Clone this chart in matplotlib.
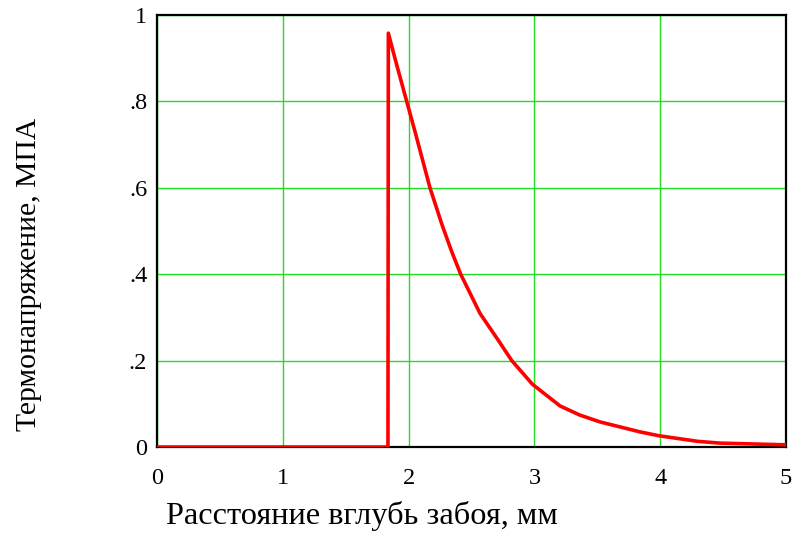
import matplotlib.pyplot as plt
from matplotlib.ticker import FuncFormatter

# глубина, мм и термонапряжение, МПА
depth = [0.0, 1.836, 1.839, 1.905, 1.985, 2.051, 2.17, 2.265, 2.343, 2.414, 2.568,
         2.713, 2.82, 2.886, 2.985, 3.204, 3.36, 3.522, 3.839, 3.99, 4.30, 4.475, 5.0]
stress = [0.0, 0.0, 0.958, 0.885, 0.80, 0.73, 0.60, 0.515, 0.452, 0.40, 0.309,
          0.247, 0.20, 0.178, 0.145, 0.095, 0.074, 0.058, 0.035, 0.026, 0.013, 0.009, 0.005]

x_ticks = [0, 1, 2, 3, 4, 5]
y_ticks = [0, 0.2, 0.4, 0.6, 0.8, 1.0]

plt.rcParams['font.family'] = ['Liberation Serif', 'DejaVu Serif']

fig = plt.figure(figsize=(7.98, 5.39), dpi=100)
ax = fig.add_axes([0.1967, 0.1707, 0.7883, 0.8015])

ax.plot(depth, stress, color='red', lw=2.6, solid_joinstyle='round', zorder=3)

ax.set_xlim(0, 5)
ax.set_ylim(0, 1)
ax.set_xticks(x_ticks)
ax.set_yticks(y_ticks)


def fmt_y(v, pos):
    if v == 0 or v == 1:
        return '%d' % v
    return ('%.1f' % v).lstrip('0')


ax.yaxis.set_major_formatter(FuncFormatter(fmt_y))
ax.tick_params(length=0, labelsize=17.5)
ax.tick_params(axis='x', pad=15)
ax.tick_params(axis='y', pad=7)

ax.grid(True, color='#22dd22', lw=1.0)
for s in ax.spines.values():
    s.set_linewidth(1.6)
    s.set_color('black')

ax.set_xlabel('Расстояние вглубь забоя, мм', fontsize=23.3)
ax.xaxis.set_label_coords(0.326, -0.125)
ax.set_ylabel('Термонапряжение, МПА', fontsize=21.3)
ax.yaxis.set_label_coords(-0.183, 0.40)

fig.savefig('out.png', dpi=100)
